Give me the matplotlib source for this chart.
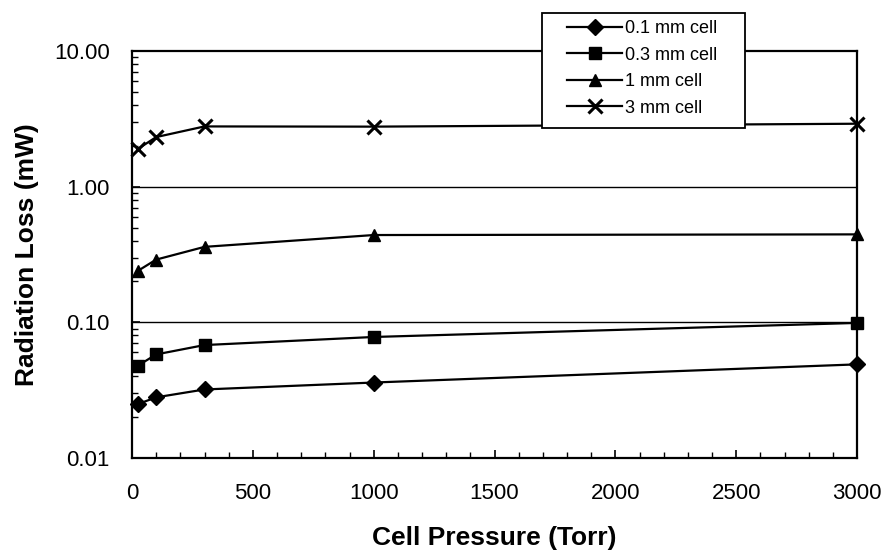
import matplotlib
matplotlib.use("Agg")
import matplotlib.pyplot as plt
from matplotlib.patches import Rectangle
from matplotlib.ticker import FixedLocator, FixedFormatter, MultipleLocator, LogLocator, NullFormatter

plt.rcParams['font.family'] = ['Liberation Sans', 'DejaVu Sans']

pressure = [25, 100, 300, 1000, 3000]
cell_01 = [0.025, 0.028, 0.032, 0.036, 0.049]
cell_03 = [0.048, 0.058, 0.068, 0.078, 0.099]
cell_1 = [0.24, 0.29, 0.36, 0.44, 0.445]
cell_3 = [1.9, 2.32, 2.78, 2.77, 2.91]
series_labels = ["0.1 mm cell", "0.3 mm cell", "1 mm cell", "3 mm cell"]
y_ticks = [0.01, 0.1, 1, 10]
y_tick_labels = ["0.01", "0.10", "1.00", "10.00"]
x_ticks = [0, 500, 1000, 1500, 2000, 2500, 3000]

fig = plt.figure(figsize=(8.88, 5.59), dpi=100)
ax = fig.add_axes([132/888, 1-458/559, (857-132)/888, (458-51)/559])

styles = [
    dict(marker='D', markersize=8),
    dict(marker='s', markersize=8),
    dict(marker='^', markersize=9),
    dict(marker='x', markersize=10, markeredgewidth=2.2),
]
for vals, lab, st in zip([cell_01, cell_03, cell_1, cell_3], series_labels, styles):
    ax.plot(pressure, vals, color='black', linewidth=1.6, label=lab,
            markerfacecolor='black', markeredgecolor='black', clip_on=False, **st)

ax.set_yscale('log')
ax.set_ylim(0.01, 10)
ax.set_xlim(0, 3000)

ax.yaxis.set_major_locator(FixedLocator(y_ticks))
ax.yaxis.set_major_formatter(FixedFormatter(y_tick_labels))
ax.yaxis.set_minor_locator(LogLocator(base=10, subs=range(2, 10)))
ax.yaxis.set_minor_formatter(NullFormatter())
ax.xaxis.set_major_locator(FixedLocator(x_ticks))
ax.xaxis.set_minor_locator(MultipleLocator(100))

ax.tick_params(axis='both', which='major', direction='in', length=6, width=1.2,
               labelsize=16)
ax.tick_params(axis='x', which='major', pad=18)
ax.tick_params(axis='y', which='major', pad=16)
ax.tick_params(axis='both', which='minor', direction='in', length=4, width=1)
ax.tick_params(axis='y', which='both', left=True, right=False)
ax.tick_params(axis='x', which='both', top=False)

for s in ax.spines.values():
    s.set_linewidth(1.6)
    s.set_color('black')

for yv in [0.1, 1]:
    ax.axhline(yv, color='black', linewidth=1.0, zorder=0.5)

ax.set_xlabel("Cell Pressure (Torr)", fontsize=19, fontweight='bold', labelpad=16)
ax.set_ylabel("Radiation Loss (mW)", fontsize=19, fontweight='bold', labelpad=11)

box = Rectangle((542/888, 1-128/559), 203/888, 115/559, transform=fig.transFigure,
                facecolor='white', edgecolor='black', linewidth=1.3, zorder=5)
fig.patches.append(box)

leg = fig.legend(loc='upper left', bbox_to_anchor=(567/888, 1-20/559),
                 frameon=False, fontsize=13, handlelength=3.05,
                 labelspacing=0.53, borderpad=0, handletextpad=0.15,
                 borderaxespad=0)
leg.set_zorder(6)

fig.savefig("out.png", dpi=100)
